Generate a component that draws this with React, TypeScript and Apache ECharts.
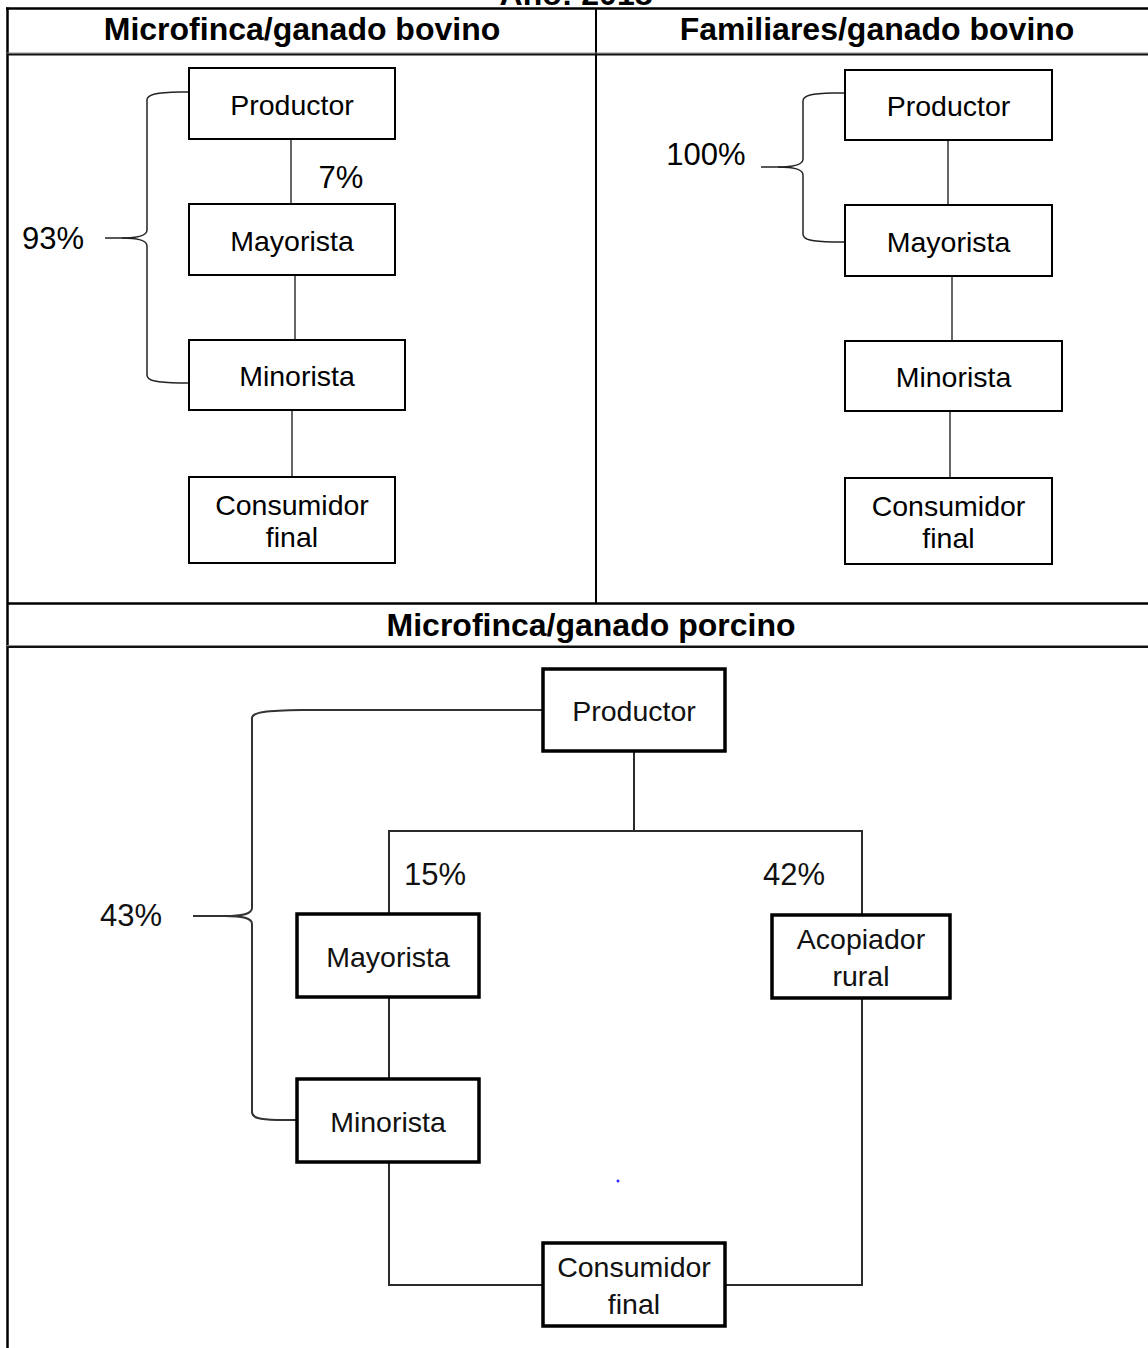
import React, { useEffect, useRef } from "react";
import * as echarts from "echarts";

// ---- content (texts and values) ----
const pageTitle = "Año: 2018";
const panelTitles = ["Microfinca/ganado bovino", "Familiares/ganado bovino", "Microfinca/ganado porcino"];
const microBovinoNodes = ["Productor", "Mayorista", "Minorista", "Consumidor\nfinal"];
const familiarBovinoNodes = ["Productor", "Mayorista", "Minorista", "Consumidor\nfinal"];
const porcinoNodes = ["Productor", "Mayorista", "Acopiador\nrural", "Minorista", "Consumidor\nfinal"];
const microBovinoShares = ["93%", "7%"];
const familiarBovinoShares = ["100%"];
const porcinoShares = ["43%", "15%", "42%"];

// ---- layout (positions / sizes) ----
const FONT = '"Liberation Sans", Arial, Helvetica, sans-serif';
const W = 1148;
const H = 1348;

type Box = [number, number, number, number];
const microBovinoBoxes: Box[] = [
  [189, 68, 206, 71],
  [189, 204, 206, 71],
  [189, 340, 216, 70],
  [189, 477, 206, 86],
];
const familiarBovinoBoxes: Box[] = [
  [845, 70, 207, 70],
  [845, 205, 207, 71],
  [845, 341, 217, 70],
  [845, 478, 207, 86],
];
const porcinoBoxes: Box[] = [
  [543, 669, 182, 82],
  [297, 914, 182, 83],
  [772, 915, 178, 83],
  [297, 1079, 182, 83],
  [543, 1243, 182, 83],
];

function boxEls(labels: string[], boxes: Box[], lw: number, lineH: number, size: number, color: string) {
  const els: any[] = [];
  labels.forEach((lab, i) => {
    const [x, y, w, h] = boxes[i];
    els.push({
      type: "rect",
      shape: { x, y, width: w, height: h },
      style: { fill: "#fff", stroke: "#000", lineWidth: lw },
      z: 10,
    });
    els.push({
      type: "text",
      x: x + w / 2,
      y: y + h / 2 + 1,
      z: 11,
      style: {
        text: lab,
        fill: color,
        font: `${size}px ${FONT}`,
        align: "center",
        verticalAlign: "middle",
        textAlign: "center",
        textVerticalAlign: "middle",
        lineHeight: lineH,
      },
    });
  });
  return els;
}

function textEl(t: string, x: number, y: number, font: string, color = "#000") {
  return {
    type: "text",
    x,
    y,
    z: 12,
    style: {
      text: t,
      fill: color,
      font,
      align: "center",
      verticalAlign: "middle",
      textAlign: "center",
      textVerticalAlign: "middle",
    },
  };
}

function lineEl(x1: number, y1: number, x2: number, y2: number, stroke: string, lw: number, z = 5) {
  return { type: "line", shape: { x1, y1, x2, y2 }, style: { stroke, lineWidth: lw }, z };
}

function polyEl(points: number[][], stroke: string, lw: number) {
  return { type: "polyline", shape: { points }, style: { stroke, lineWidth: lw, fill: null }, z: 5 };
}

function bez(x1: number, y1: number, cpx1: number, cpy1: number, cpx2: number, cpy2: number, x2: number, y2: number, stroke: string, lw: number) {
  return {
    type: "bezierCurve",
    shape: { x1, y1, x2, y2, cpx1, cpy1, cpx2, cpy2 },
    style: { stroke, lineWidth: lw, fill: null },
    z: 6,
  };
}

function brace(
  v: number, t: number, y0: number, ym: number, y1: number,
  rTop: number, rBot: number, topHook: number, botHook: number, tipCurve: number,
  stroke: string, lw: number
) {
  const r = 8;
  return [
    lineEl(rTop, y0, v + topHook, y0, stroke, lw, 6),
    bez(v + topHook, y0, v + topHook * 0.3, y0 + 0.5, v, y0 + 2, v, y0 + r, stroke, lw),
    lineEl(v, y0 + r, v, ym - r, stroke, lw, 6),
    bez(v, ym - r, v, ym - 2, v - tipCurve * 0.35, ym, v - tipCurve, ym, stroke, lw),
    lineEl(v - tipCurve, ym, t, ym, stroke, lw, 6),
    bez(v - tipCurve, ym, v - tipCurve * 0.35, ym, v, ym + 2, v, ym + r, stroke, lw),
    lineEl(v, ym + r, v, y1 - r, stroke, lw, 6),
    bez(v, y1 - r, v, y1 - 2, v + botHook * 0.3, y1 - 0.5, v + botHook, y1, stroke, lw),
    lineEl(v + botHook, y1, rBot, y1, stroke, lw, 6),
  ];
}

function buildElements() {
  const els: any[] = [];
  const headFont = `bold 32px ${FONT}`;
  const pctFont = `31px ${FONT}`;

  // page title (cut off at the top)
  els.push(textEl(pageTitle, 576, -6, headFont));

  // table frame
  els.push(lineEl(6, 8.5, W, 8.5, "#000", 2.5, 20));
  els.push(lineEl(7.5, 7.5, 7.5, H, "#000", 2.5, 20));
  els.push(lineEl(596, 8, 596, 604, "#000", 2, 20));
  els.push(lineEl(7, 53, W, 53, "#8a8a8a", 1, 20));
  els.push(lineEl(7, 54.5, W, 54.5, "#111", 2, 20));
  els.push(lineEl(7, 603.5, W, 603.5, "#000", 2.5, 20));
  els.push(lineEl(7, 645.5, W, 645.5, "#8a8a8a", 1, 20));
  els.push(lineEl(7, 647, W, 647, "#111", 2, 20));

  // panel headers
  els.push(textEl(panelTitles[0], 302, 29, headFont));
  els.push(textEl(panelTitles[1], 877, 29, headFont));
  els.push(textEl(panelTitles[2], 591, 625, headFont));

  // --- panel 1: microfinca / bovino ---
  const c1 = "#333";
  els.push(lineEl(291, 139, 291, 204, c1, 1.5));
  els.push(lineEl(295, 275, 295, 340, c1, 1.5));
  els.push(lineEl(292, 410, 292, 477, c1, 1.5));
  els.push(...boxEls(microBovinoNodes, microBovinoBoxes, 2, 32, 28.5, "#000"));
  els.push(...brace(147, 105, 92, 238, 383, 189, 189, 33, 33, 25, "#222", 1.5));
  els.push(textEl(microBovinoShares[0], 53, 238, pctFont));
  els.push(textEl(microBovinoShares[1], 341, 177, pctFont));

  // --- panel 2: familiares / bovino ---
  els.push(lineEl(948, 140, 948, 205, c1, 1.5));
  els.push(lineEl(952, 276, 952, 341, c1, 1.5));
  els.push(lineEl(950, 411, 950, 478, c1, 1.5));
  els.push(...boxEls(familiarBovinoNodes, familiarBovinoBoxes, 2, 32, 28.5, "#000"));
  els.push(...brace(803, 761, 93, 167, 242, 845, 845, 30, 30, 25, "#222", 1.5));
  els.push(textEl(familiarBovinoShares[0], 706, 154, pctFont));

  // --- panel 3: microfinca / porcino ---
  const c3 = "#2a2a2a";
  els.push(lineEl(634, 751, 634, 831, c3, 2));
  els.push(lineEl(388, 831, 863, 831, c3, 2));
  els.push(lineEl(389, 831, 389, 914, c3, 2));
  els.push(lineEl(862, 831, 862, 915, c3, 2));
  els.push(lineEl(389, 997, 389, 1079, c3, 2));
  els.push(polyEl([[389, 1162], [389, 1285], [543, 1285]], c3, 2));
  els.push(polyEl([[725, 1285], [862, 1285], [862, 998]], c3, 2));
  els.push(...boxEls(porcinoNodes, porcinoBoxes, 3.5, 37, 28.5, "#111"));
  els.push(...brace(252, 193, 710, 916, 1120, 543, 297, 50, 25, 27, "#333", 2));
  els.push(textEl(porcinoShares[0], 131, 915, pctFont, "#111"));
  els.push(textEl(porcinoShares[1], 435, 874, pctFont, "#111"));
  els.push(textEl(porcinoShares[2], 794, 874, pctFont, "#111"));

  // small blue dot
  els.push({ type: "circle", shape: { cx: 618, cy: 1181, r: 1.5 }, style: { fill: "#2a2aff" }, z: 5 });

  return els;
}

export default function App() {
  const ref = useRef<HTMLDivElement>(null);
  useEffect(() => {
    if (!ref.current) return;
    const chart = echarts.init(ref.current, null, { renderer: "svg" });
    chart.setOption({
      animation: false,
      backgroundColor: "#ffffff",
      graphic: { elements: buildElements() },
    });
    return () => chart.dispose();
  }, []);
  return (
    <div
      ref={ref}
      style={{ position: "absolute", left: 0, top: 0, width: W, height: H, background: "#fff" }}
    />
  );
}
